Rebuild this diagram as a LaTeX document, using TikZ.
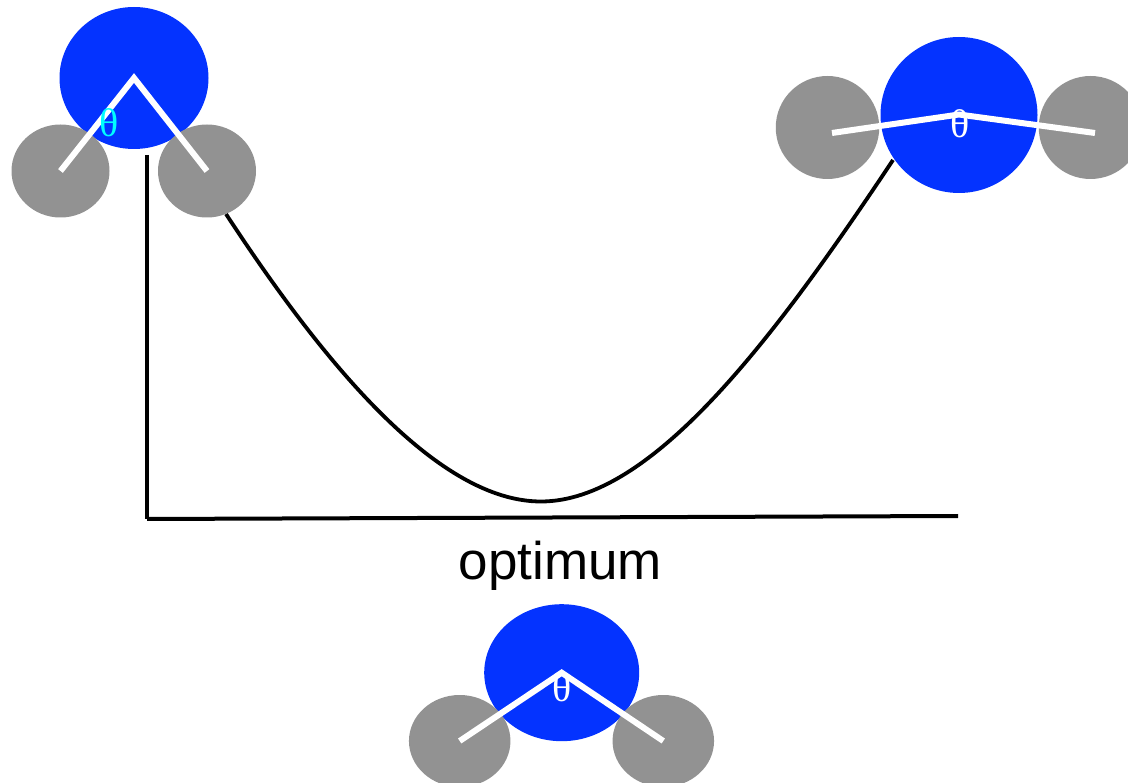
\documentclass[tikz,border=0pt]{standalone}
\usepackage{fontspec}
\setmainfont{Liberation Sans}
\newfontfamily\thetafont{Liberation Serif}
\usetikzlibrary{shapes.geometric}
\definecolor{oxygen}{HTML}{0433FF}
\definecolor{hydrogen}{HTML}{929292}
\definecolor{cyantheta}{HTML}{00FDFF}
\tikzset{
  x=1pt,y=-1pt,
  atom/.style={ellipse,draw=none,inner sep=0pt,outer sep=0pt},
  oatom/.style={atom,fill=oxygen},
  hatom/.style={atom,fill=hydrogen},
  bond/.style={draw=white,line width=6pt},
  axisline/.style={draw=black,line width=4pt},
  curveline/.style={draw=black,line width=3.8pt},
  thetalabel/.style={inner sep=0pt,font=\thetafont\fontsize{40}{40}\selectfont}
}
\begin{document}
\begin{tikzpicture}
\useasboundingbox (0,0) rectangle (1128,783);
\clip (0,0) rectangle (1128,783);
% axes and curve
\coordinate (ytop) at (147,155);
\coordinate (origin) at (147,519);
\coordinate (xend) at (958,516);
\coordinate (cstart) at (226,214);
\coordinate (cmin) at (541,501.5);
\coordinate (cend) at (893,160);
\draw[axisline] (ytop) -- (origin);
\draw[axisline] (origin) -- (xend);
\draw[curveline] (cstart) .. controls (328,370) and (440,501.5) .. (cmin)
  .. controls (650,501.5) and (770,345) .. (cend);
% top-left molecule
\node[oatom,minimum width=149pt,minimum height=142pt] (o1) at (134,78) {};
\node[hatom,minimum width=98pt,minimum height=93pt] (h1a) at (60.5,171) {};
\node[hatom,minimum width=98pt,minimum height=93pt] (h1b) at (207,171) {};
\draw[bond] (h1a.center) -- (o1.center) -- (h1b.center);
\node[thetalabel,text=cyantheta] (t1) at (109.5,123) {θ};
% top-right molecule
\node[oatom,minimum width=157pt,minimum height=156pt] (o2) at (959,115) {};
\node[hatom,minimum width=103.5pt,minimum height=103pt] (h2a) at (827.5,127.5) {};
\node[hatom,minimum width=103.5pt,minimum height=103pt] (h2b) at (1090.5,127.5) {};
\coordinate (h2aend) at (832,133);
\coordinate (h2bend) at (1095,133);
\coordinate (apex2) at (959,114.5);
\draw[bond] (h2aend) -- (apex2) -- (h2bend);
\node[thetalabel,text=white] (t2) at (960,124) {θ};
% optimum
\node[inner sep=0pt,font=\fontsize{53}{53}\selectfont] (lab) at (560.5,566) {optimum};
\node[oatom,minimum width=155pt,minimum height=137pt] (o3) at (561.7,672.7) {};
\node[hatom,minimum width=101.5pt,minimum height=92pt] (h3a) at (459.7,741) {};
\node[hatom,minimum width=101.5pt,minimum height=92pt] (h3b) at (663.3,741) {};
\draw[bond] (h3a.center) -- (o3.center) -- (h3b.center);
\node[thetalabel,text=white] (t3) at (562,688) {θ};
\end{tikzpicture}
\end{document}
